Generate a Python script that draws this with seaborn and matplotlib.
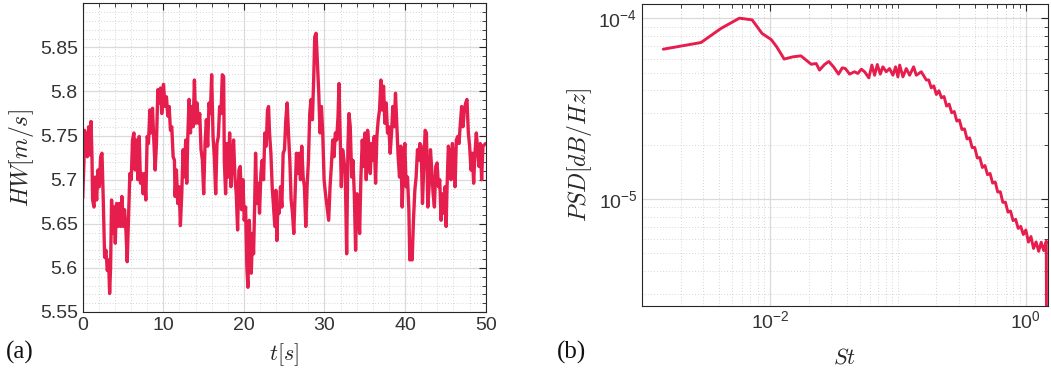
import numpy as np
import pandas as pd
import matplotlib
matplotlib.use("Agg")
import matplotlib.pyplot as plt
import matplotlib.ticker as mticker
import seaborn as sns

# (a) hot-wire signal
t_s = [0.00, 0.16, 0.22, 0.41, 0.57, 0.74, 0.90, 1.03, 1.15, 1.23, 1.40, 1.56, 1.73, 1.89,
       2.06, 2.22, 2.39, 2.55, 2.72, 2.88, 3.05, 3.21, 3.34, 3.46, 3.58, 3.75, 3.91, 4.04,
       4.20, 4.37, 4.53, 4.70, 4.86, 5.03, 5.19, 5.36, 5.52, 5.69, 5.85, 6.02, 6.18, 6.35,
       6.51, 6.68, 6.84, 7.01, 7.17, 7.34, 7.50, 7.67, 7.83, 8.00, 8.16, 8.33, 8.49, 8.66,
       8.82, 8.99, 9.15, 9.32, 9.48, 9.65, 9.81, 9.98,
       10.02, 10.22, 10.39, 10.56, 10.72, 10.89, 11.05, 11.22, 11.38, 11.46, 11.63, 11.79,
       11.96, 12.12, 12.29, 12.45, 12.62, 12.78, 12.91, 13.04, 13.20, 13.37, 13.53, 13.70,
       13.86, 14.02, 14.19, 14.35, 14.52, 14.68, 14.85, 15.01, 15.18, 15.34, 15.51, 15.67,
       15.84, 16.00, 16.17, 16.33, 16.50, 16.66, 16.83, 16.99, 17.16, 17.32, 17.49, 17.57,
       17.73, 17.90, 18.06, 18.23, 18.39, 18.56, 18.72, 18.89, 19.05, 19.22, 19.38, 19.55,
       19.71, 19.88,
       20.04, 20.21, 20.37, 20.50, 20.67, 20.79, 20.91, 21.08, 21.20, 21.33, 21.45, 21.61,
       21.78, 21.94, 22.11, 22.27, 22.44, 22.60, 22.77, 22.93, 23.06, 23.18, 23.35, 23.51,
       23.68, 23.84, 23.97, 24.09, 24.21, 24.38, 24.54, 24.71, 24.87, 25.04, 25.20, 25.37,
       25.53, 25.70, 25.86, 26.03, 26.19, 26.36, 26.52, 26.69, 26.85, 27.02, 27.18, 27.35,
       27.51, 27.68, 27.84, 28.01, 28.17, 28.34, 28.50, 28.67, 28.79, 28.96, 29.12, 29.29,
       29.45, 29.62, 29.78, 29.95, 30.11,
       30.36, 30.52, 30.69, 30.85, 31.02, 31.18, 31.35, 31.51, 31.68, 31.80, 31.92, 32.09,
       32.25, 32.42, 32.58, 32.75, 32.91, 33.04, 33.20, 33.37, 33.53, 33.70, 33.86, 34.03,
       34.19, 34.36, 34.52, 34.69, 34.85, 35.02, 35.18, 35.35, 35.51, 35.68, 35.84, 36.01,
       36.17, 36.34, 36.50, 36.67, 36.83, 37.00, 37.16, 37.33, 37.49, 37.66, 37.82, 37.99,
       38.15, 38.32, 38.48, 38.65, 38.81, 38.98, 39.14, 39.31, 39.47, 39.64, 39.80, 39.97,
       40.13, 40.30,
       40.47, 40.59, 40.71, 40.88, 41.04, 41.21, 41.37, 41.54, 41.70, 41.83, 41.99, 42.16,
       42.32, 42.49, 42.65, 42.82, 42.98, 43.15, 43.31, 43.48, 43.64, 43.81, 43.97, 44.14,
       44.30, 44.47, 44.63, 44.80, 44.96, 45.09, 45.21, 45.37, 45.54, 45.70, 45.87, 46.03,
       46.20, 46.36, 46.53, 46.69, 46.86, 47.02, 47.19, 47.35, 47.52, 47.68, 47.85, 48.01,
       48.18, 48.34, 48.51, 48.67, 48.84, 49.00, 49.17, 49.33, 49.50, 49.66, 50.00]

hw = [5.679, 5.722, 5.756, 5.749, 5.726, 5.760, 5.728, 5.766, 5.726, 5.677, 5.669, 5.703, 5.677, 5.711,
      5.692, 5.726, 5.730, 5.677, 5.612, 5.620, 5.597, 5.609, 5.571, 5.601, 5.677, 5.639, 5.669, 5.628,
      5.673, 5.647, 5.673, 5.647, 5.681, 5.647, 5.666, 5.643, 5.607, 5.658, 5.707, 5.700, 5.745, 5.753,
      5.711, 5.745, 5.700, 5.749, 5.696, 5.707, 5.684, 5.707, 5.677, 5.749, 5.741, 5.779, 5.753, 5.781,
      5.745, 5.711, 5.741, 5.802, 5.787, 5.804, 5.775, 5.798,
      5.808, 5.783, 5.794, 5.772, 5.783, 5.756, 5.760, 5.726, 5.722, 5.681, 5.711, 5.673,
      5.692, 5.648, 5.684, 5.734, 5.703, 5.745, 5.696, 5.749, 5.791, 5.753, 5.783, 5.760,
      5.813, 5.764, 5.787, 5.764, 5.775, 5.734, 5.722, 5.684, 5.741, 5.768, 5.738, 5.787,
      5.775, 5.819, 5.749, 5.726, 5.684, 5.741, 5.749, 5.783, 5.775, 5.819, 5.817, 5.722,
      5.684, 5.741, 5.703, 5.753, 5.692, 5.726, 5.745, 5.703, 5.684, 5.643, 5.711, 5.715,
      5.666, 5.700,
      5.654, 5.669, 5.600, 5.578, 5.654, 5.624, 5.594, 5.639, 5.616, 5.669, 5.730, 5.673,
      5.696, 5.662, 5.707, 5.722, 5.700, 5.753, 5.738, 5.779, 5.783, 5.753, 5.730, 5.692,
      5.669, 5.647, 5.688, 5.631, 5.669, 5.662, 5.692, 5.669, 5.730, 5.734, 5.768, 5.787,
      5.753, 5.722, 5.677, 5.662, 5.639, 5.685, 5.730, 5.707, 5.730, 5.700, 5.738, 5.703,
      5.692, 5.647, 5.692, 5.722, 5.775, 5.791, 5.768, 5.817, 5.862, 5.866, 5.832, 5.798,
      5.753, 5.783, 5.753, 5.700, 5.685,
      5.666, 5.654, 5.692, 5.715, 5.745, 5.726, 5.753, 5.745, 5.772, 5.809, 5.760, 5.692,
      5.734, 5.722, 5.707, 5.616, 5.738, 5.775, 5.760, 5.703, 5.722, 5.684, 5.620, 5.684,
      5.669, 5.639, 5.703, 5.745, 5.715, 5.753, 5.700, 5.756, 5.738, 5.707, 5.741, 5.722,
      5.749, 5.696, 5.749, 5.768, 5.779, 5.813, 5.779, 5.806, 5.764, 5.787, 5.753, 5.760,
      5.730, 5.753, 5.783, 5.760, 5.798, 5.760, 5.726, 5.703, 5.738, 5.669, 5.715, 5.741,
      5.692, 5.703,
      5.666, 5.609, 5.624, 5.609, 5.654, 5.688, 5.703, 5.734, 5.722, 5.741, 5.738, 5.673,
      5.715, 5.756, 5.753, 5.669, 5.692, 5.734, 5.711, 5.684, 5.669, 5.715, 5.719, 5.692,
      5.700, 5.654, 5.684, 5.662, 5.692, 5.647, 5.692, 5.738, 5.730, 5.700, 5.741, 5.722,
      5.692, 5.745, 5.749, 5.741, 5.764, 5.783, 5.760, 5.779, 5.787, 5.791, 5.753, 5.738,
      5.711, 5.730, 5.696, 5.730, 5.753, 5.734, 5.715, 5.741, 5.700, 5.738, 5.741]

# (b) power spectral density
st = [0.00146, 0.00288, 0.00413, 0.00575, 0.00723, 0.00865, 0.01018, 0.01127, 0.01288, 0.01503,
      0.01738, 0.01914, 0.02095, 0.02293, 0.02432, 0.02663, 0.02875, 0.03131, 0.03427, 0.03664,
      0.03882, 0.04180, 0.04571, 0.04853, 0.05161, 0.05477, 0.05915, 0.06246, 0.06561, 0.06891,
      0.07268, 0.07615, 0.08092, 0.08590, 0.09120, 0.09574, 0.0998, 0.1031, 0.1093, 0.1161,
      0.1233, 0.1325, 0.1390, 0.1521, 0.1666,
      0.1738, 0.1820, 0.1905, 0.1995, 0.2089, 0.2188, 0.2291, 0.2399, 0.2512, 0.2630,
      0.2754, 0.2884, 0.3020, 0.3162, 0.3311, 0.3467, 0.3631, 0.3802, 0.3981, 0.4169,
      0.4365, 0.4571, 0.4786, 0.5012, 0.5248, 0.5495, 0.5754, 0.6026, 0.6310, 0.6607,
      0.6918, 0.7244, 0.7586, 0.7943, 0.8318, 0.8710, 0.9120, 0.9550, 1.000, 1.047,
      1.096, 1.148, 1.202, 1.259, 1.318, 1.380, 1.445, 1.46]

psd = [6.76e-5, 7.36e-5, 8.81e-5, 1.004e-4, 9.82e-5, 8.26e-5, 7.65e-5, 6.96e-5, 5.96e-5, 6.13e-5,
       6.21e-5, 5.88e-5, 5.58e-5, 5.63e-5, 5.18e-5, 5.56e-5, 5.78e-5, 5.40e-5, 4.92e-5, 5.33e-5,
       5.28e-5, 4.92e-5, 5.07e-5, 4.96e-5, 5.24e-5, 5.07e-5, 4.69e-5, 5.52e-5, 4.85e-5, 5.56e-5,
       4.92e-5, 5.40e-5, 5.07e-5, 5.28e-5, 4.85e-5, 5.40e-5, 4.75e-5, 5.52e-5, 4.75e-5, 5.28e-5,
       4.85e-5, 5.40e-5, 4.85e-5, 5.07e-5, 4.56e-5,
       4.571e-5, 4.130e-5, 4.236e-5, 3.793e-5, 3.981e-5, 3.639e-5, 3.698e-5, 3.273e-5, 3.357e-5, 3.006e-5,
       3.055e-5, 2.704e-5, 2.742e-5, 2.427e-5, 2.449e-5, 2.153e-5, 2.183e-5, 1.928e-5, 1.932e-5, 1.690e-5,
       1.698e-5, 1.496e-5, 1.535e-5, 1.365e-5, 1.387e-5, 1.227e-5, 1.245e-5, 1.094e-5, 1.099e-5, 9.594e-6,
       9.616e-6, 8.472e-6, 8.590e-6, 7.603e-6, 7.727e-6, 6.887e-6, 7.063e-6, 6.368e-6, 6.745e-6, 5.781e-6,
       6.209e-6, 5.333e-6, 5.794e-6, 5.140e-6, 5.768e-6, 5.188e-6, 5.861e-6, 1.0e-7]

hw_ticks = [5.55, 5.6, 5.65, 5.7, 5.75, 5.8, 5.85]
hw_ticklabels = ["5.55", "5.6", "5.65", "5.7", "5.75", "5.8", "5.85"]
t_ticks = [0, 10, 20, 30, 40, 50]

LINE = "#E61E4D"
INK = "#262626"

sns.set_style("white")
plt.rcParams["font.family"] = ["Liberation Sans", "DejaVu Sans"]
plt.rcParams["mathtext.fontset"] = "cm"

fig = plt.figure(figsize=(10.51, 3.74), dpi=100)
ax1 = fig.add_axes([0.0787, 0.1658, 0.3834, 0.8254])
ax2 = fig.add_axes([0.6111, 0.1826, 0.3857, 0.8080])

df_t = pd.DataFrame({"t": t_s, "hw": hw})
df_f = pd.DataFrame({"St": st, "PSD": psd})

sns.lineplot(data=df_t, x="t", y="hw", ax=ax1, color=LINE, linewidth=2.4,
             estimator=None, sort=False)
sns.lineplot(data=df_f, x="St", y="PSD", ax=ax2, color=LINE, linewidth=2.1,
             estimator=None, sort=False)

# left panel
ax1.set_xlim(0, 50)
ax1.set_ylim(5.55, 5.90)
ax1.set_xticks(t_ticks)
ax1.xaxis.set_minor_locator(mticker.MultipleLocator(2))
ax1.set_yticks(hw_ticks)
ax1.set_yticklabels(hw_ticklabels)
ax1.yaxis.set_minor_locator(mticker.MultipleLocator(0.01))

# right panel
ax2.set_xscale("log")
ax2.set_yscale("log")
ax2.set_xlim(1e-3, 1.48)
ax2.set_ylim(2.57e-6, 1.21e-4)
ax2.xaxis.set_major_locator(mticker.FixedLocator([1e-2, 1e0]))
ax2.xaxis.set_major_formatter(mticker.FixedFormatter([r"$10^{-2}$", r"$10^{0}$"]))
xmin = [m * d for d in [1e-3, 1e-2, 1e-1, 1e0] for m in range(1, 10)
        if not (m == 1 and d in (1e-2, 1e0))]
ax2.xaxis.set_minor_locator(mticker.FixedLocator(xmin))
ax2.xaxis.set_minor_formatter(mticker.NullFormatter())
ax2.yaxis.set_major_locator(mticker.FixedLocator([1e-5, 1e-4]))
ax2.yaxis.set_major_formatter(mticker.FixedFormatter([r"$10^{-5}$", r"$10^{-4}$"]))
ymin = [m * d for d in [1e-6, 1e-5, 1e-4] for m in range(2, 10)]
ax2.yaxis.set_minor_locator(mticker.FixedLocator(ymin))
ax2.yaxis.set_minor_formatter(mticker.NullFormatter())

for ax in (ax1, ax2):
    ax.set_axisbelow(True)
    ax.grid(True, which="major", color="#dadada", linewidth=0.9, linestyle="-")
    ax.grid(True, which="minor", color="#c8c8c8", linewidth=0.6, linestyle=(0, (1, 2.5)))
    ax.tick_params(which="both", direction="in", top=True, right=True, color=INK,
                   labelcolor="#333333", labelsize=14)
    ax.tick_params(which="major", length=5, width=0.8)
    ax.tick_params(which="minor", length=3, width=0.6)
    for s in ax.spines.values():
        s.set_color(INK)
        s.set_linewidth(0.8)
    for lab in ax.get_xticklabels() + ax.get_yticklabels():
        lab.set_fontfamily(["Liberation Sans", "DejaVu Sans"])

# mathtext tick labels in sans
for lab in ax2.get_xticklabels() + ax2.get_yticklabels():
    lab.set_math_fontfamily("custom")
plt.rcParams["mathtext.rm"] = "Liberation Sans"
plt.rcParams["mathtext.it"] = "Liberation Sans:italic"

ax1.set_xlabel(r"$t[s]$", fontsize=16, color=INK, labelpad=5, math_fontfamily="cm")
ax1.set_ylabel(r"$HW[m/s]$", fontsize=17, color=INK, labelpad=3, math_fontfamily="cm")
ax2.set_xlabel(r"$St$", fontsize=16, color=INK, labelpad=11, math_fontfamily="cm")
ax2.set_ylabel(r"$PSD[dB/Hz]$", fontsize=17, color=INK, labelpad=3, math_fontfamily="cm")

fig.text(0.006, 0.057, "(a)", fontsize=18, family="Liberation Serif", color="#111111", va="center")
fig.text(0.530, 0.057, "(b)", fontsize=18, family="Liberation Serif", color="#111111", va="center")

fig.savefig("out.png", dpi=100)
